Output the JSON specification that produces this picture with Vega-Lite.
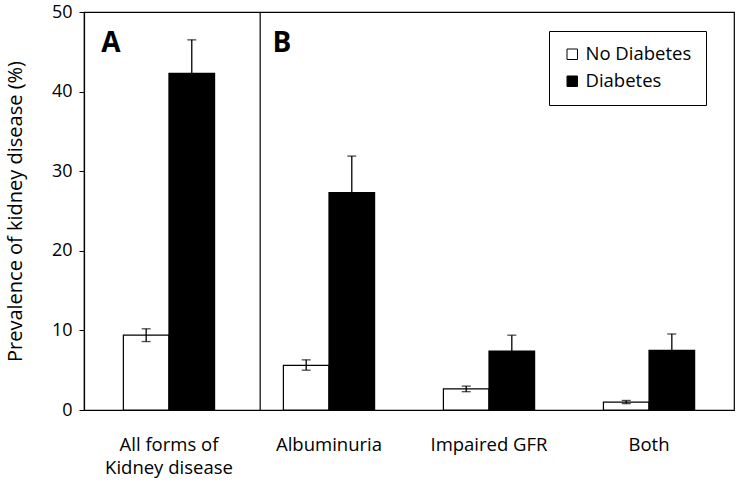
{
  "$schema": "https://vega.github.io/schema/vega-lite/v6.json",
  "width": 650,
  "height": 398,
  "autosize": {"type": "none"},
  "padding": {"left": 84, "top": 12, "right": 3, "bottom": 78},
  "background": "white",
  "config": {
    "font": "Open Sans",
    "view": {"stroke": "black", "strokeWidth": 1.2},
    "axis": {"labelColor": "black", "titleColor": "black", "domainColor": "black", "tickColor": "black", "grid": false}
  },
  "datasets": {
    "bars": [
      {"cat": "All forms of|Kidney disease", "group": "No Diabetes", "value": 9.4, "lo": 8.6, "hi": 10.2},
      {"cat": "All forms of|Kidney disease", "group": "Diabetes", "value": 42.3, "lo": 38.1, "hi": 46.5},
      {"cat": "Albuminuria", "group": "No Diabetes", "value": 5.6, "lo": 5.0, "hi": 6.3},
      {"cat": "Albuminuria", "group": "Diabetes", "value": 27.3, "lo": 22.7, "hi": 31.9},
      {"cat": "Impaired GFR", "group": "No Diabetes", "value": 2.65, "lo": 2.3, "hi": 3.0},
      {"cat": "Impaired GFR", "group": "Diabetes", "value": 7.4, "lo": 5.4, "hi": 9.4},
      {"cat": "Both", "group": "No Diabetes", "value": 1.0, "lo": 0.8, "hi": 1.2},
      {"cat": "Both", "group": "Diabetes", "value": 7.5, "lo": 5.5, "hi": 9.55}
    ]
  },
  "layer": [
    {
      "data": {"name": "bars"},
      "mark": {"type": "bar", "stroke": "black", "strokeWidth": 1.2},
      "encoding": {
        "x": {
          "field": "cat", "type": "nominal",
          "sort": ["All forms of|Kidney disease", "Albuminuria", "Impaired GFR", "Both"],
          "scale": {"paddingInner": 0.43, "paddingOuter": 0.246},
          "axis": {"title": null, "labelAngle": 0, "ticks": false, "labelExpr": "split(datum.label, '|')", "labelFontSize": 18.5, "labelPadding": 34, "labelLineHeight": 23, "labelBaseline": "middle", "domainWidth": 1.2}
        },
        "xOffset": {"field": "group", "type": "nominal", "sort": ["No Diabetes", "Diabetes"], "scale": {"paddingInner": 0, "paddingOuter": 0}},
        "y": {
          "field": "value", "type": "quantitative",
          "scale": {"domain": [0, 50], "nice": false},
          "axis": {"title": "Prevalence of kidney disease (%)", "values": [0, 10, 20, 30, 40, 50], "tickSize": 5, "labelFontSize": 18, "labelPadding": 7, "titleFontSize": 20, "titleFontWeight": "normal", "titlePadding": 26, "domainWidth": 1.2}
        },
        "fill": {
          "field": "group", "type": "nominal",
          "scale": {"domain": ["No Diabetes", "Diabetes"], "range": ["white", "black"]},
          "legend": {"title": null, "orient": "none", "legendX": 465, "legendY": 19, "strokeColor": "black", "fillColor": "white", "padding": 14, "labelFontSize": 18.5, "symbolType": "square", "symbolSize": 110, "symbolStrokeColor": "black", "symbolStrokeWidth": 1, "rowPadding": 8, "labelColor": "black"}
        }
      }
    },
    {
      "data": {"name": "bars"},
      "mark": {"type": "rule", "color": "black", "strokeWidth": 1.3},
      "encoding": {
        "x": {"field": "cat", "type": "nominal", "sort": ["All forms of|Kidney disease", "Albuminuria", "Impaired GFR", "Both"]},
        "xOffset": {"field": "group", "type": "nominal", "sort": ["No Diabetes", "Diabetes"]},
        "y": {"field": "lo", "type": "quantitative"},
        "y2": {"field": "hi"}
      }
    },
    {
      "data": {"name": "bars"},
      "mark": {"type": "tick", "color": "black", "size": 9, "thickness": 1.3},
      "encoding": {
        "x": {"field": "cat", "type": "nominal", "sort": ["All forms of|Kidney disease", "Albuminuria", "Impaired GFR", "Both"]},
        "xOffset": {"field": "group", "type": "nominal", "sort": ["No Diabetes", "Diabetes"]},
        "y": {"field": "lo", "type": "quantitative"}
      }
    },
    {
      "data": {"name": "bars"},
      "mark": {"type": "tick", "color": "black", "size": 9, "thickness": 1.3},
      "encoding": {
        "x": {"field": "cat", "type": "nominal", "sort": ["All forms of|Kidney disease", "Albuminuria", "Impaired GFR", "Both"]},
        "xOffset": {"field": "group", "type": "nominal", "sort": ["No Diabetes", "Diabetes"]},
        "y": {"field": "hi", "type": "quantitative"}
      }
    },
    {
      "data": {"values": [{"cat": "All forms of|Kidney disease"}]},
      "mark": {"type": "rule", "color": "black", "strokeWidth": 1.2},
      "encoding": {
        "x": {"field": "cat", "type": "nominal", "sort": ["All forms of|Kidney disease", "Albuminuria", "Impaired GFR", "Both"], "bandPosition": 1.5}
      }
    },
    {
      "data": {"values": [{"t": "A", "cat": "All forms of|Kidney disease"}]},
      "mark": {"type": "text", "align": "left", "baseline": "alphabetic", "fontSize": 28, "fontWeight": "bold", "dx": -22, "color": "black"},
      "encoding": {
        "x": {"field": "cat", "type": "nominal", "sort": ["All forms of|Kidney disease", "Albuminuria", "Impaired GFR", "Both"], "bandPosition": 0},
        "y": {"datum": 45, "type": "quantitative"},
        "text": {"field": "t"}
      }
    },
    {
      "data": {"values": [{"t": "B", "cat": "Albuminuria"}]},
      "mark": {"type": "text", "align": "left", "baseline": "alphabetic", "fontSize": 28, "fontWeight": "bold", "dx": -11, "color": "black"},
      "encoding": {
        "x": {"field": "cat", "type": "nominal", "sort": ["All forms of|Kidney disease", "Albuminuria", "Impaired GFR", "Both"], "bandPosition": 0},
        "y": {"datum": 45, "type": "quantitative"},
        "text": {"field": "t"}
      }
    }
  ]
}
